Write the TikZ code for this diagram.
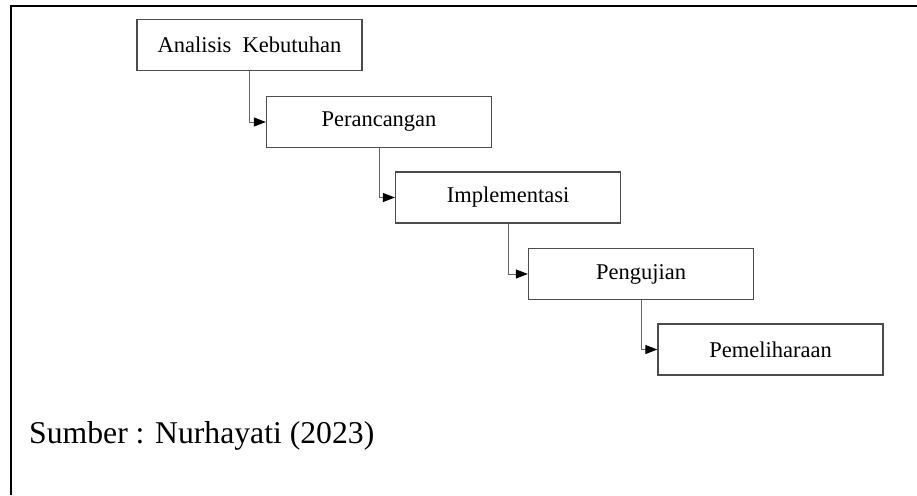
\documentclass[tikz,border=0pt]{standalone}
\usepackage{fontspec}
\setmainfont{Liberation Serif}
\usetikzlibrary{arrows.meta}
\begin{document}
\begin{tikzpicture}[x=1pt,y=-1pt,
  stage/.style={draw=black!70, line width=1.3pt, minimum width=225pt, minimum height=51pt, inner sep=0pt, font=\fontsize{22.5}{26}\selectfont},
  conn/.style={draw=black!60, line width=1pt, -{Triangle[length=12pt,width=9pt,color=black,fill=black]}},
  frameline/.style={draw=black, line width=2pt},
  caption/.style={anchor=base west, inner sep=0pt, font=\fontsize{31.7}{36}\selectfont}]
\useasboundingbox (0,0) rectangle (917,495);
\coordinate (ftop) at (917,6);
\coordinate (fcorner) at (11,6);
\coordinate (fbottom) at (11,495);
\draw[frameline] (ftop) -- (fcorner) -- (fbottom);

\node[stage] (ak) at (249.5,45) {Analisis\ \ Kebutuhan};
\node[stage] (pr) at (379,122) {Perancangan};
\node[stage] (im) at (508,197.5) {Implementasi};
\node[stage] (pj) at (641,274) {Pengujian};
\node[stage] (pm) at (770.5,349.5) {Pemeliharaan};

\draw[conn] (ak.south) |- (pr.west);
\draw[conn] (pr.south) |- (im.west);
\draw[conn] (im.south) |- (pj.west);
\draw[conn] (pj.south) |- (pm.west);

\node[caption] (src) at (29,443) {Sumber : Nurhayati (2023)};
\end{tikzpicture}
\end{document}
